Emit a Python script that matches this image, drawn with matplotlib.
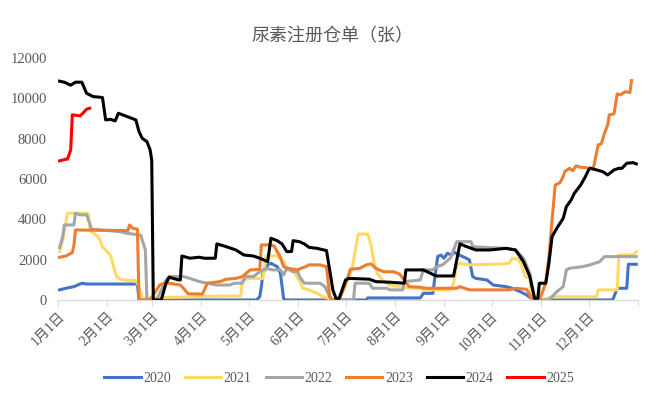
import numpy as np
import matplotlib
matplotlib.use("Agg")
import matplotlib.pyplot as plt

plt.rcParams['font.family'] = ['Liberation Serif', 'Noto Sans CJK SC']
plt.rcParams['axes.unicode_minus'] = False

# 尿素注册仓单（张），x = 一年中的第几天（0 = 1月1日）
d2020 = [1, 5, 10, 15, 18, 50, 51, 125, 127, 128, 129, 132, 134, 138, 140, 142, 143, 194, 195, 228, 230,
         236, 237, 239, 241, 243, 245, 248, 249, 251, 257, 259, 261, 263, 270, 274, 282, 286, 291, 295, 299,
         349, 350, 352, 358, 359, 364]
v2020 = [500, 580, 660, 830, 790, 790, 0, 0, 160, 660, 1320, 1740, 1820, 1650, 1320, 80, 0, 0, 100, 100, 330,
         330, 990, 2150, 2230, 2070, 2310, 2230, 2400, 2280, 2070, 1980, 1160, 1070, 990, 740, 660, 580, 410, 250, 0,
         0, 160, 580, 580, 1770, 1770]

d2021 = [1, 3, 6, 19, 20, 21, 24, 26, 28, 32, 33, 35, 37, 40, 49, 51, 53, 70, 108, 115, 116, 121, 129, 131,
         138, 142, 144, 148, 151, 152, 154, 158, 163, 167, 173, 177, 182, 185, 187, 189, 195, 197, 199, 201,
         205, 209, 215, 221, 228, 230, 247, 249, 251, 253, 259, 280, 284, 286, 290, 292, 294, 297, 298, 305,
         311, 339, 340, 352, 353, 362, 364]
v2021 = [2400, 2980, 4300, 4300, 3640, 3390, 3220, 3060, 2640, 2310, 2230, 1650, 1160, 990, 960, 660, 80, 130,
         200, 200, 990, 1070, 1070, 2180, 2180, 1900, 1490, 1490, 1070, 990, 580, 500, 330, 160, 0, 0, 990, 1490,
         2400, 3270, 3270, 2730, 1820, 1320, 910, 740, 660, 580, 580, 500, 500, 830, 1740, 1820, 1740, 1790,
         1820, 2070, 2020, 1650, 1160, 1070, 0, 0, 160, 160, 500, 500, 2230, 2230, 2400]

d2022 = [1, 3, 4, 10, 11, 14, 18, 20, 21, 39, 43, 52, 54, 55, 56, 62, 68, 70, 79, 83, 89, 94, 100, 108, 111,
         116, 118, 123, 127, 131, 135, 140, 142, 144, 148, 151, 152, 155, 165, 168, 172, 186, 187, 196, 198,
         207, 209, 217, 218, 228, 230, 236, 238, 242, 247, 251, 260, 261, 282, 288, 293, 297, 300, 309, 314,
         318, 320, 322, 330, 335, 341, 344, 364]
v2022 = [2600, 3140, 3720, 3720, 4300, 4220, 4220, 3800, 3510, 3390, 3310, 3220, 2730, 2480, 0, 0, 990, 1160,
         1160, 1070, 910, 830, 740, 740, 830, 830, 1160, 1160, 1400, 1570, 1490, 1490, 1240, 1570, 1400, 1400,
         1160, 830, 830, 660, 0, 0, 830, 830, 580, 580, 500, 500, 910, 990, 1490, 1490, 1650, 1740, 2070, 2890,
         2890, 2640, 2560, 2480, 2070, 1320, 0, 0, 410, 660, 1490, 1570, 1650, 1740, 1900, 2150, 2150]

d2023 = [1, 5, 9, 10, 11, 44, 45, 47, 50, 51, 58, 64, 67, 70, 77, 79, 82, 91, 94, 102, 106, 112, 116, 121,
         127, 128, 133, 136, 140, 142, 145, 151, 153, 156, 158, 165, 169, 171, 173, 177, 182, 184, 190, 194,
         197, 200, 205, 211, 215, 218, 221, 228, 232, 251, 253, 259, 284, 288, 295, 298, 303, 307, 309, 311,
         313, 316, 318, 319, 322, 324, 326, 329, 337, 340, 342, 344, 346, 347, 350, 352, 354, 357, 360, 361]
v2023 = [2120, 2180, 2350, 2680, 3470, 3440, 3720, 3560, 3510, 0, 0, 740, 830, 830, 740, 580, 300, 300, 830,
         910, 1030, 1070, 1160, 1490, 1520, 2730, 2730, 2680, 2120, 1650, 1570, 1490, 1570, 1650, 1740, 1740,
         1650, 160, 0, 0, 990, 1520, 1570, 1740, 1790, 1570, 1400, 1400, 1290, 990, 660, 630, 580, 580, 660,
         500, 500, 580, 530, 80, 0, 830, 2150, 3970, 5700, 5820, 6120, 6370, 6530, 6410, 6650, 6580, 6530,
         7690, 7740, 8270, 8680, 9180, 9230, 10220, 10170, 10330, 10290, 10880]

d2024 = [1, 4, 8, 11, 15, 18, 22, 28, 30, 33, 36, 38, 49, 51, 53, 56, 58, 59, 60, 65, 68, 70, 76, 77, 78,
         83, 89, 92, 99, 100, 106, 112, 117, 123, 127, 132, 134, 138, 141, 144, 147, 148, 152, 155, 158, 163,
         169, 171, 173, 175, 177, 181, 183, 196, 200, 209, 218, 219, 230, 238, 249, 253, 256, 263, 272, 282,
         288, 293, 297, 300, 302, 303, 307, 309, 311, 314, 318, 320, 323, 325, 329, 332, 334, 335, 339, 343,
         346, 350, 353, 355, 358, 362, 364]
v2024 = [10850, 10800, 10650, 10800, 10800, 10250, 10090, 10040, 8930, 8960, 8880, 9260, 8930, 8350, 8020,
         7850, 7440, 6940, 0, 0, 830, 1130, 990, 990, 2180, 2070, 2120, 2070, 2070, 2780, 2640, 2480, 2230,
         2180, 2070, 1900, 3060, 2940, 2780, 2400, 2400, 2940, 2890, 2780, 2610, 2560, 2450, 1490, 500, 80, 80,
         990, 1070, 1030, 910, 880, 830, 1490, 1490, 1190, 1190, 2780, 2680, 2480, 2480, 2560, 2480, 1900,
         1160, 80, 80, 830, 830, 1820, 3140, 3560, 4050, 4630, 4960, 5290, 5700, 6120, 6450, 6530, 6450, 6360,
         6200, 6450, 6530, 6530, 6780, 6810, 6750]

d2025 = [1, 5, 6, 8, 9, 14, 16, 18, 20]
v2025 = [6900, 6980, 6980, 7440, 9180, 9130, 9290, 9460, 9510]

years = ['2020', '2021', '2022', '2023', '2024', '2025']
colors = ['#4472C4', '#FFD966', '#A5A5A5', '#ED7D31', '#000000', '#FF0000']
series = [(d2020, v2020), (d2021, v2021), (d2022, v2022), (d2023, v2023), (d2024, v2024), (d2025, v2025)]

month_days = [0, 31, 59, 90, 120, 151, 181, 212, 243, 273, 304, 334, 365]
month_labels = [f'{m}月1日' for m in range(1, 13)]

fig = plt.figure(figsize=(6.65, 4.07), dpi=100)
ax = fig.add_axes([0.0872, 0.263, 0.872, 0.5945])

for (d, v), c, y in zip(series, colors, years):
    ax.plot(d, v, color=c, lw=2.2, label=y, solid_joinstyle='round')

ax.set_xlim(0, 365)
ax.set_ylim(0, 12000)
ax.set_yticks(range(0, 12001, 2000))
ax.set_xticks(month_days)
ax.set_xticklabels(month_labels + [''], rotation=45, ha='right', rotation_mode='anchor')

for s in ['top', 'right', 'left']:
    ax.spines[s].set_visible(False)
ax.spines['bottom'].set_color('#D9D9D9')
ax.tick_params(axis='y', length=0, labelsize=10.5, labelcolor='#595959', pad=8)
ax.tick_params(axis='x', length=4, color='#D9D9D9', labelsize=10, labelcolor='#595959', pad=3)

fig.text(0.5, 0.91, '尿素注册仓单（张）', ha='center', va='center', fontsize=13, color='#595959')

ax.legend(loc='center', bbox_to_anchor=(0.485, -0.325), ncol=6, frameon=False, fontsize=10,
          handlelength=2.6, handletextpad=0.2, columnspacing=1.0, labelcolor='#595959')

fig.savefig('out.png', dpi=100)
